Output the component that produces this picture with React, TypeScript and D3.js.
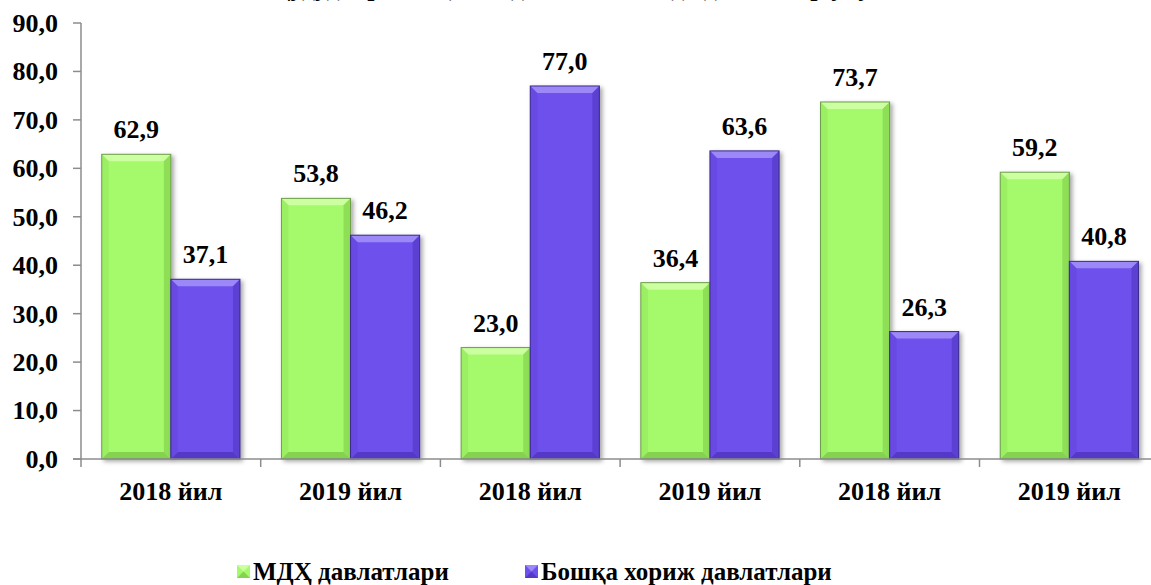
import { useMemo } from "react";
import * as d3 from "d3";

const W = 1151;
const H = 585;

const categories = ["2018 йил", "2019 йил", "2018 йил", "2019 йил", "2018 йил", "2019 йил"];
const seriesNames = ["МДҲ давлатлари", "Бошқа хориж давлатлари"];
const mdhValues = [62.9, 53.8, 23.0, 36.4, 73.7, 59.2];
const otherValues = [37.1, 46.2, 77.0, 63.6, 26.3, 40.8];
const yTicks = [0, 10, 20, 30, 40, 50, 60, 70, 80, 90];
const title = "Ҳудудлар ташқи савдо айланмасида давлатлар улуши";

const palette = [
  { fill: "#a4fa6b", light: "#cbff9f", dark: "#84d24f", side: "#96e75e", edge: "#6f9c4c" },
  { fill: "#6e51ec", light: "#9c88f7", dark: "#5438c8", side: "#6246dc", edge: "#3a2a8c" },
];

const font = "Liberation Serif, Times New Roman, serif";
const fmt = (v: number) => d3.format(".1f")(v).replace(".", ",");

const left = 81;
const catStep = 179.7;
const y0 = 459;
const yTop = 23;

const BevelBar = ({ x, y, w, h, c }: { x: number; y: number; w: number; h: number; c: typeof palette[0] }) => {
  const b = Math.min(7, h / 2, w / 2);
  const x2 = x + w;
  const y2 = y + h;
  return (
    <g filter="url(#shadow)">
      <rect x={x} y={y} width={w} height={h} fill={c.fill} />
      <polygon points={`${x},${y} ${x2},${y} ${x2 - b},${y + b} ${x + b},${y + b}`} fill={c.light} />
      <polygon points={`${x},${y2} ${x2},${y2} ${x2 - b},${y2 - b} ${x + b},${y2 - b}`} fill={c.dark} />
      <polygon points={`${x},${y} ${x + b},${y + b} ${x + b},${y2 - b} ${x},${y2}`} fill={c.side} opacity={0.6} />
      <polygon points={`${x2},${y} ${x2 - b},${y + b} ${x2 - b},${y2 - b} ${x2},${y2}`} fill={c.dark} opacity={0.7} />
      <rect x={x} y={y} width={w} height={h} fill="none" stroke={c.edge} strokeWidth={1} />
    </g>
  );
};

export default function App() {
  const x0 = useMemo(
    () => d3.scaleBand<number>().domain(d3.range(categories.length)).range([left, left + catStep * categories.length]).padding(0),
    []
  );
  const x1 = useMemo(
    () => d3.scaleBand<number>().domain([0, 1]).range([0, x0.bandwidth()]).paddingInner(0).paddingOuter(0.3),
    [x0]
  );
  const y = useMemo(() => d3.scaleLinear().domain([0, 90]).range([y0, yTop]), []);
  const series = [mdhValues, otherValues];

  return (
    <svg
      width={W}
      height={H}
      style={{ position: "absolute", left: 0, top: 0, background: "#fff", fontFamily: font, fontWeight: "bold" }}
    >
      <defs>
        <filter id="shadow" x="-20%" y="-5%" width="140%" height="115%">
          <feDropShadow dx="2.5" dy="2" stdDeviation="2" floodColor="#000" floodOpacity="0.35" />
        </filter>
      </defs>

      {/* title sits above the visible area, only its descenders show */}
      <text x={590} y={-4} textAnchor="middle" fontSize={26} fill="#000">{title}</text>

      {/* y axis */}
      <line x1={left} x2={left} y1={yTop} y2={y0} stroke="#8c8c8c" strokeWidth={1.5} />
      {yTicks.map((t) => (
        <g key={t}>
          <line x1={73} x2={left} y1={y(t)} y2={y(t)} stroke="#8c8c8c" strokeWidth={1.5} />
          <text x={58} y={y(t)} dy="0.34em" textAnchor="end" fontSize={26} fill="#000">{fmt(t)}</text>
        </g>
      ))}

      {/* bars */}
      {categories.map((cat, i) => (
        <g key={i}>
          {series.map((vals, s) => {
            const bx = (x0(i) ?? 0) + (x1(s) ?? 0);
            const by = y(vals[i]);
            return (
              <g key={s}>
                <BevelBar x={bx} y={by} w={x1.bandwidth()} h={y0 - by} c={palette[s]} />
                <text x={bx + x1.bandwidth() / 2} y={by - 16} textAnchor="middle" fontSize={26} fill="#000">{fmt(vals[i])}</text>
              </g>
            );
          })}
        </g>
      ))}

      {/* x axis */}
      <line x1={73} x2={W} y1={y0} y2={y0} stroke="#8c8c8c" strokeWidth={1.5} />
      {categories.map((cat, i) => (
        <g key={i}>
          <line x1={x0(i) ?? 0} x2={x0(i) ?? 0} y1={y0} y2={y0 + 8} stroke="#8c8c8c" strokeWidth={1.5} />
          <text x={(x0(i) ?? 0) + x0.bandwidth() / 2} y={500} textAnchor="middle" fontSize={26} fill="#000">{cat}</text>
        </g>
      ))}

      {/* legend */}
      {seriesNames.map((name, s) => {
        const lx = s === 0 ? 237 : 525;
        const c = palette[s];
        const m = 13;
        const ly = 565;
        return (
          <g key={name}>
            <rect x={lx} y={ly} width={m} height={m} fill={c.fill} />
            <polygon points={`${lx},${ly} ${lx + m},${ly} ${lx + m / 2},${ly + m / 2}`} fill={c.light} />
            <polygon points={`${lx},${ly + m} ${lx + m},${ly + m} ${lx + m / 2},${ly + m / 2}`} fill={c.dark} />
            <text x={lx + 16} y={580} fontSize={25} fill="#000">{name}</text>
          </g>
        );
      })}
    </svg>
  );
}
